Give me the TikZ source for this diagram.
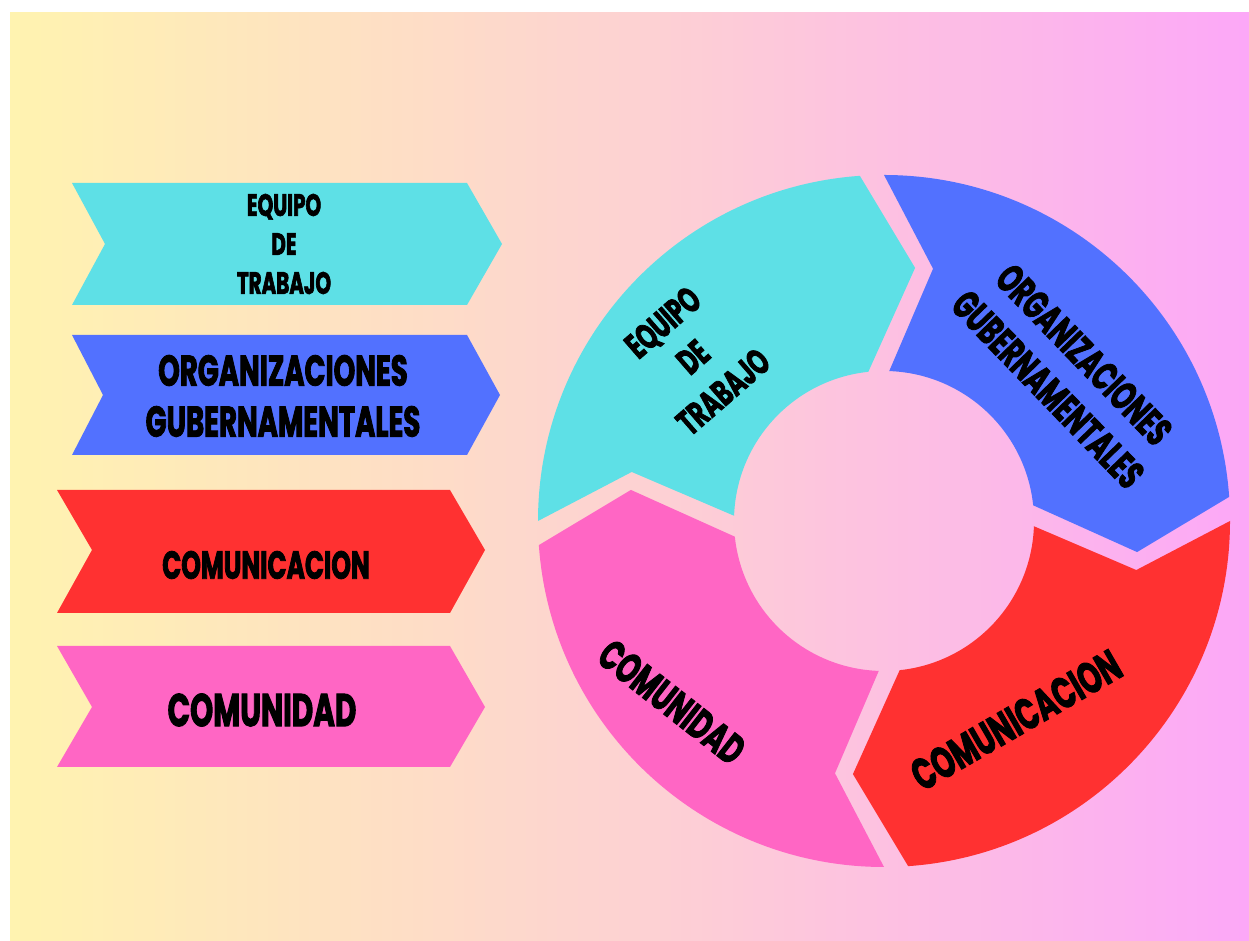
\documentclass[tikz,border=0pt]{standalone}
\usepackage{fontspec}
\newfontfamily\lblfont{Poppins}[FakeStretch=0.64,FakeBold=2]
\begin{document}
\begin{tikzpicture}[x=1pt,y=1pt,
  lbl/.style={text=black,anchor=center,inner sep=0pt,outer sep=0pt,align=center},
  fsz/.style 2 args={font=\lblfont\bfseries\fontsize{#1}{#2}\selectfont}]
\definecolor{fillColor}{RGB}{255,255,255}
\definecolor{bgLeft}{RGB}{255,243,176}
\definecolor{bgMid}{RGB}{253,210,210}
\definecolor{bgRight}{RGB}{252,168,247}
\definecolor{cyanColor}{RGB}{94,224,230}
\definecolor{blueColor}{RGB}{82,113,255}
\definecolor{redColor}{RGB}{255,49,49}
\definecolor{pinkColor}{RGB}{255,102,196}
\path[use as bounding box,fill=bgRight] (0,0) rectangle (1249,941);

\foreach \i in {0,...,59}{
  \pgfmathsetmacro{\p}{\i*100/59}
  \pgfmathsetmacro{\xa}{10+\i*10.325}
  \path[fill=bgMid!\p!bgLeft] (\xa,0) rectangle ({\xa+11},929);
  \pgfmathsetmacro{\xb}{629.5+\i*10.325}
  \path[fill=bgRight!\p!bgMid] (\xb,0) rectangle ({\xb+11},929);
}
\path[fill=fillColor] (0,0) rectangle (10,941);
\path[fill=fillColor] (0,929) rectangle (1249,941);

\path[fill=cyanColor] ( 72.00,758.00) -- (467.00,758.00) -- (502.00,697.00) -- (467.00,636.00) -- ( 72.00,636.00) -- (105.00,697.00) -- cycle;

\path[fill=blueColor] ( 72.00,606.00) -- (467.00,606.00) -- (500.00,546.00) -- (467.00,486.00) -- ( 72.00,486.00) -- (103.00,546.00) -- cycle;

\path[fill=redColor] ( 57.00,451.00) -- (450.00,451.00) -- (485.00,391.00) -- (450.00,328.00) -- ( 57.00,328.00) -- ( 92.00,391.00) -- cycle;

\path[fill=pinkColor] ( 57.00,295.00) -- (450.00,295.00) -- (485.00,234.00) -- (450.00,174.00) -- ( 57.00,174.00) -- ( 92.00,234.00) -- cycle;

\node[lbl,fsz={31}{39}] (tabEquipo) at (284.00,697.00) {EQUIPO\\DE\\TRABAJO};

\node[lbl,fsz={43}{51}] (tabOrganiz) at (283.00,545.00) {ORGANIZACIONES\\GUBERNAMENTALES};

\node[lbl,fsz={39}{44}] (tabComunic) at (266.00,376.00) {COMUNICACION};

\node[lbl,fsz={46}{50}] (tabComunid) at (262.00,231.00) {COMUNIDAD};

\begin{scope}[shift={(884.00,420.00)}]
\path[fill=cyanColor] (180:346) arc[start angle=180, end angle=94, radius=346] -- (83:255) -- (96:150) arc[start angle=96, end angle=178, radius=150] -- (169:257) -- cycle;

\path[fill=blueColor] (90:346) arc[start angle=90, end angle=4, radius=346] -- (-7:255) -- (6:150) arc[start angle=6, end angle=88, radius=150] -- (79:257) -- cycle;

\path[fill=redColor] (0:346) arc[start angle=0, end angle=-86, radius=346] -- (-97:255) -- (-84:150) arc[start angle=-84, end angle=-2, radius=150] -- (-11:257) -- cycle;

\path[fill=pinkColor] (-90:346) arc[start angle=-90, end angle=-176, radius=346] -- (-187:255) -- (-174:150) arc[start angle=-174, end angle=-92, radius=150] -- (-101:257) -- cycle;
\end{scope}

\node[lbl,fsz={36}{46},rotate= 41.00] (ringEquipo) at (693.00,584.00) {EQUIPO\\DE\\TRABAJO};

\node[lbl,fsz={40}{50},rotate=-46.00] (ringOrganiz) at (1066.00,569.00) {ORGANIZACIONES\\GUBERNAMENTALES};

\node[lbl,fsz={44}{50},rotate= 30.00] (ringComunic) at (1016.00,221.00) {COMUNICACION};

\node[lbl,fsz={42}{50},rotate=-38.00] (ringComunid) at (672.00,239.00) {COMUNIDAD};
\end{tikzpicture}
\end{document}
